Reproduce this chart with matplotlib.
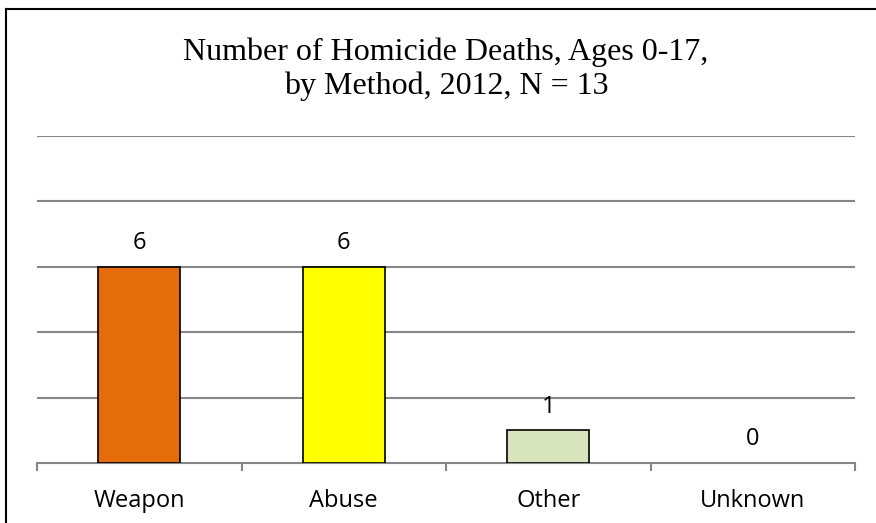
import matplotlib
matplotlib.use('Agg')
import matplotlib.pyplot as plt
from matplotlib.lines import Line2D

categories = ['Weapon', 'Abuse', 'Other', 'Unknown']
deaths = [6, 6, 1, 0]
colors = ['#E46C0A', '#FFFF00', '#D7E4BD', '#FFFFFF']
title = 'Number of Homicide Deaths, Ages 0-17,\nby Method, 2012, N = 13'

W, H = 876, 523
fig = plt.figure(figsize=(W / 100, H / 100), dpi=100)
ax = fig.add_axes([37 / W, 1 - 463 / H, (855 - 37) / W, (463 - 136) / H])

x = range(len(categories))
bars = ax.bar(x, deaths, width=0.4, color=colors, edgecolor='black',
              linewidth=1.2, zorder=3)
for b, v in zip(bars, deaths):
    if v == 0:
        b.set_visible(False)
for xi, v in zip(x, deaths):
    ax.text(xi, v + 0.72, str(v), ha='center', va='center',
            fontsize=17, family='Open Sans')

ax.set_xlim(-0.5, len(categories) - 0.5)
ax.set_ylim(0, 10)
ax.set_yticks([2, 4, 6, 8, 10])
ax.yaxis.grid(True, color='#868686', linewidth=1.5, zorder=0)
ax.tick_params(axis='y', length=0, labelleft=False)

ax.set_xticks(list(x))
ax.set_xticklabels(categories, fontsize=17, family='Open Sans')
ax.set_xticks([i - 0.5 for i in range(len(categories) + 1)], minor=True)
ax.tick_params(axis='x', which='major', length=0, pad=19)
ax.tick_params(axis='x', which='minor', length=6, width=1.5, color='#868686')

for s in ['top', 'left', 'right']:
    ax.spines[s].set_visible(False)
ax.spines['bottom'].set_color('#868686')
ax.spines['bottom'].set_linewidth(1.5)

fig.text(446 / W, 1 - 69 / H, title, ha='center', va='center',
         fontsize=23, family='Liberation Serif', linespacing=1.2)

# chart border (left and top edges visible)
fig.add_artist(Line2D([6 / W, 6 / W], [0, 1 - 9 / H], color='black',
                      linewidth=1.5, transform=fig.transFigure))
fig.add_artist(Line2D([6 / W, 1], [1 - 9 / H, 1 - 9 / H], color='black',
                      linewidth=1.5, transform=fig.transFigure))

fig.savefig('out.png', dpi=100)
